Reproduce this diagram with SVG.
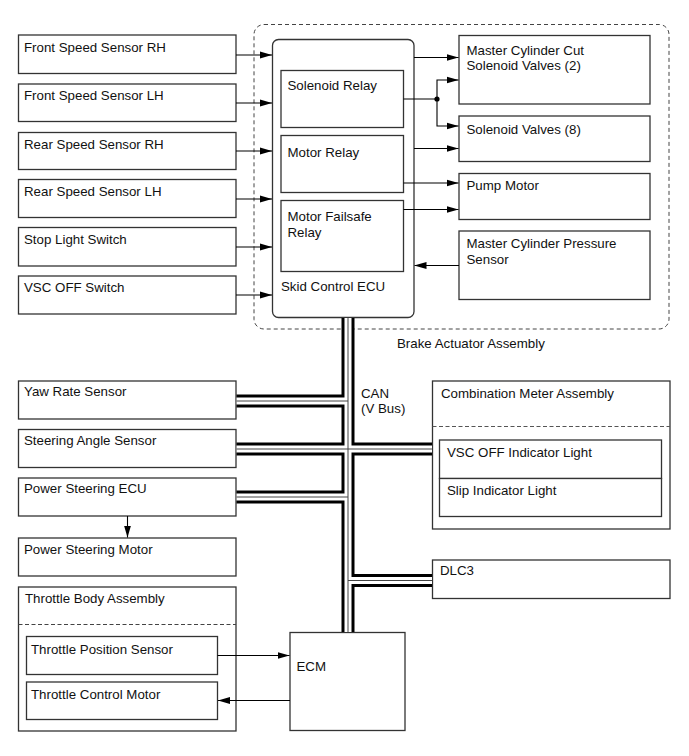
<svg xmlns="http://www.w3.org/2000/svg" width="689" height="756" viewBox="0 0 689 756">
<defs>
<marker id="ah" markerUnits="userSpaceOnUse" markerWidth="12" markerHeight="8" refX="12" refY="4" orient="auto">
<path d="M0,0.5 L12,4 L0,7.5 z" fill="#000"/>
</marker>
<style>
.box{fill:#fff;stroke:#333;stroke-width:1.3}
.t{font-family:"Liberation Sans",Arial,sans-serif;font-size:13.3px;fill:#111}
.ar{fill:none;stroke:#000;stroke-width:1.1;marker-end:url(#ah)}
.ln{fill:none;stroke:#000;stroke-width:1.1}
.dash{fill:none;stroke:#444;stroke-width:1;stroke-dasharray:4,3}
</style>
</defs>
<rect width="689" height="756" fill="#fff"/>

<g id="brake-actuator-assembly">
<rect x="254" y="24.5" width="415" height="304.5" rx="10" class="dash"/>
<text class="t" x="397" y="347.5">Brake Actuator Assembly</text>
</g>

<g id="front-speed-sensor-rh"><rect class="box" x="18.5" y="35" width="217.5" height="38.5"/><text class="t" x="24" y="51.5">Front Speed Sensor RH</text></g>
<g id="front-speed-sensor-lh"><rect class="box" x="18.5" y="84" width="217.5" height="37.5"/><text class="t" x="24" y="100">Front Speed Sensor LH</text></g>
<g id="rear-speed-sensor-rh"><rect class="box" x="18.5" y="132.5" width="217.5" height="37"/><text class="t" x="24" y="148.5">Rear Speed Sensor RH</text></g>
<g id="rear-speed-sensor-lh"><rect class="box" x="18.5" y="179.5" width="217.5" height="38"/><text class="t" x="24" y="196">Rear Speed Sensor LH</text></g>
<g id="stop-light-switch"><rect class="box" x="18.5" y="227.5" width="217.5" height="38.5"/><text class="t" x="24" y="244">Stop Light Switch</text></g>
<g id="vsc-off-switch"><rect class="box" x="18.5" y="276" width="217.5" height="38"/><text class="t" x="24" y="292">VSC OFF Switch</text></g>

<g id="skid-control-ecu">
<rect class="box" x="272.5" y="39.5" width="141.5" height="278" rx="6"/>
<text class="t" x="281" y="290.5">Skid Control ECU</text>
</g>
<g id="solenoid-relay"><rect class="box" x="281" y="70.5" width="122.5" height="57"/><text class="t" x="287.5" y="90">Solenoid Relay</text></g>
<g id="motor-relay"><rect class="box" x="281" y="135.5" width="122.5" height="57"/><text class="t" x="287.5" y="156.5">Motor Relay</text></g>
<g id="motor-failsafe-relay"><rect class="box" x="281" y="200.5" width="122.5" height="71"/><text class="t" x="287.5" y="221">Motor Failsafe</text><text class="t" x="287.5" y="237">Relay</text></g>

<g id="master-cylinder-cut-solenoid-valves"><rect class="box" x="459" y="35.5" width="191" height="68.5"/><text class="t" x="466.5" y="54.5">Master Cylinder Cut</text><text class="t" x="466.5" y="70">Solenoid Valves (2)</text></g>
<g id="solenoid-valves"><rect class="box" x="459" y="116" width="191" height="45.5"/><text class="t" x="466.5" y="133.5">Solenoid Valves (8)</text></g>
<g id="pump-motor"><rect class="box" x="459" y="173.5" width="191" height="46"/><text class="t" x="466.5" y="190">Pump Motor</text></g>
<g id="master-cylinder-pressure-sensor"><rect class="box" x="459" y="231" width="191" height="68.5"/><text class="t" x="466.5" y="247.5">Master Cylinder Pressure</text><text class="t" x="466.5" y="263.5">Sensor</text></g>

<g id="yaw-rate-sensor"><rect class="box" x="18.5" y="381" width="217.5" height="38"/><text class="t" x="24" y="396">Yaw Rate Sensor</text></g>
<g id="steering-angle-sensor"><rect class="box" x="18.5" y="429.5" width="217.5" height="38"/><text class="t" x="24" y="444.5">Steering Angle Sensor</text></g>
<g id="power-steering-ecu"><rect class="box" x="18.5" y="478" width="217.5" height="38"/><text class="t" x="24" y="493">Power Steering ECU</text></g>
<g id="power-steering-motor"><rect class="box" x="18.5" y="538" width="217.5" height="38"/><text class="t" x="24" y="553.5">Power Steering Motor</text></g>

<g id="throttle-body-assembly">
<rect class="box" x="18.5" y="587" width="217.5" height="144"/>
<line x1="18.5" y1="624.5" x2="236" y2="624.5" stroke="#444" stroke-width="1" stroke-dasharray="4,2.5"/>
<text class="t" x="25" y="602.5">Throttle Body Assembly</text>
</g>
<g id="throttle-position-sensor"><rect class="box" x="26.5" y="636.5" width="191" height="38"/><text class="t" x="31" y="653.5">Throttle Position Sensor</text></g>
<g id="throttle-control-motor"><rect class="box" x="26.5" y="682" width="191" height="37.5"/><text class="t" x="31" y="699">Throttle Control Motor</text></g>

<g id="ecm"><rect class="box" x="290" y="632.5" width="115" height="98"/><text class="t" x="296.5" y="670.5">ECM</text></g>

<g id="combination-meter-assembly">
<rect class="box" x="432.5" y="381" width="237.5" height="148"/>
<line x1="432.5" y1="426.5" x2="670" y2="426.5" stroke="#555" stroke-width="1" stroke-dasharray="4,2.5"/>
<text class="t" x="441" y="398">Combination Meter Assembly</text>
</g>
<g id="vsc-off-indicator-light"><rect class="box" x="439.5" y="440" width="222" height="38.5"/><text class="t" x="447" y="456.5">VSC OFF Indicator Light</text></g>
<g id="slip-indicator-light"><rect class="box" x="439.5" y="478.5" width="222" height="38"/><text class="t" x="447" y="495">Slip Indicator Light</text></g>

<g id="dlc3"><rect class="box" x="432.5" y="560" width="237.5" height="38.5"/><text class="t" x="440" y="575">DLC3</text></g>

<g id="can-label"><text class="t" x="361" y="397.5">CAN</text><text class="t" x="361" y="413">(V Bus)</text></g>

<g id="connectors">
<g id="can-bus" fill="none" stroke-linecap="butt">
<path d="M348,318 V632 M236.5,401 H348 M236.5,449 H432 M236.5,497 H348 M348,580.5 H432" stroke="#000" stroke-width="13"/>
<path d="M348,318 V632 M236.5,401 H348 M236.5,449 H432 M236.5,497 H348 M348,580.5 H432" stroke="#fff" stroke-width="7"/>
<path d="M348,318 V632 M236.5,401 H348 M236.5,449 H432 M236.5,497 H348 M348,580.5 H432" stroke="#444" stroke-width="1"/>
</g>
<path class="ar" d="M236,55 H272"/>
<path class="ar" d="M236,103 H272"/>
<path class="ar" d="M236,151 H272"/>
<path class="ar" d="M236,199 H272"/>
<path class="ar" d="M236,247 H272"/>
<path class="ar" d="M236,295 H272"/>
<path class="ar" d="M414,57.5 H458.5"/>
<path class="ln" d="M403.5,99 H437"/>
<path class="ar" d="M437,99 V80 H458.5"/>
<path class="ar" d="M437,99 V126 H458.5"/>
<circle cx="437" cy="99" r="2.6" fill="#000"/>
<path class="ar" d="M414,148.5 H458.5"/>
<path class="ar" d="M403.5,183 H458.5"/>
<path class="ar" d="M403.5,209.5 H458.5"/>
<path class="ar" d="M459,265.5 H414.5"/>
<path class="ar" d="M127.5,516 V537.5"/>
<path class="ar" d="M217.5,655.5 H289.5"/>
<path class="ar" d="M290,700.5 H218"/>
</g>
</svg>
